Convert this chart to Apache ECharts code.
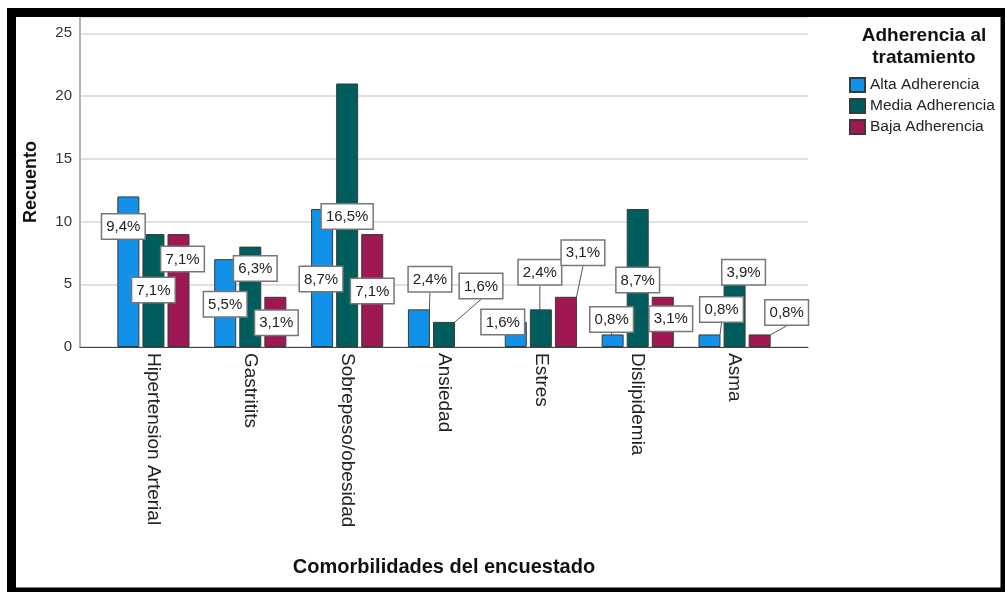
<!DOCTYPE html>
<html>
<head>
<meta charset="utf-8">
<script src="https://cdn.jsdelivr.net/npm/echarts@6.0.0/dist/echarts.min.js"></script>
<style>
html, body { margin: 0; padding: 0; background: #fff; }
#chart { width: 1005px; height: 592px; }
</style>
</head>
<body>
<div id="chart"></div>
<script>
// datos (recuento)
var categories = ['Hipertension Arterial', 'Gastritits', 'Sobrepeso/obesidad', 'Ansiedad', 'Estres', 'Dislipidemia', 'Asma'];
var seriesNames = ['Alta Adherencia', 'Media Adherencia', 'Baja Adherencia'];
var alta = [12, 7, 11, 3, 2, 1, 1];
var media = [9, 8, 21, 2, 3, 11, 5];
var baja = [9, 4, 9, 0, 4, 4, 1];
var yTicks = [0, 5, 10, 15, 20, 25];

var FONT = '"Liberation Sans", Arial, sans-serif';
var colors = ['#1192e8', '#005d5d', '#9f1853'];
var values = [alta, media, baja];

var total = 0;
values.forEach(function (arr) { arr.forEach(function (v) { total += v; }); });

// desplazamiento de cada etiqueta respecto a su posicion por defecto (encima de la barra)
var labelShift = [
  [[-5, 42], [0, 57], [-1, 82], [11, -18], [-13, 12], [-1, -3], [12, -13]],
  [[0, 68], [5, 34], [0, 145], [37, -24], [-1, -25], [0, 83], [9, 0]],
  [[4, 37], [1, 38], [0, 69], [0, 0], [17, -32], [8, 34], [27, -10]]
];
// etiquetas con linea guia
var leaders = [[3, 5, 6], [3, 4], [4, 6]];

function pct(v) {
  return (v / total * 100).toFixed(1).replace('.', ',') + '%';
}

function makeSeries(k) {
  return {
    name: seriesNames[k],
    type: 'bar',
    xAxisIndex: 1,
    yAxisIndex: 1,
    barWidth: 22,
    barGap: '14%',
    itemStyle: { color: colors[k], borderColor: '#3a3a3a', borderWidth: 1 },
    label: {
      show: true,
      position: 'top',
      distance: 0,
      formatter: function (p) { return pct(p.value); },
      fontFamily: FONT,
      fontSize: 15,
      lineHeight: 17,
      color: '#222',
      backgroundColor: '#fff',
      borderColor: '#777',
      borderWidth: 1.5,
      padding: [4, 4, 3, 4]
    },
    labelLine: { show: false, lineStyle: { color: '#555', width: 1 } },
    labelLayout: function (p) {
      var o = labelShift[p.seriesIndex][p.dataIndex];
      return { dx: o[0], dy: o[1] };
    },
    data: values[k].map(function (v, i) {
      var item = {
        value: v,
        label: { show: v > 0 },
        labelLine: { show: leaders[k].indexOf(i) >= 0 }
      };
      if (v === 0) item.itemStyle = { borderWidth: 0 };
      return item;
    })
  };
}

var chart = echarts.init(document.getElementById('chart'));
var option = {
  animation: false,
  backgroundColor: '#fff',
  grid: [
    { left: 80, right: 197, top: 17, bottom: 245 },
    { left: 105, right: 222, top: 17, bottom: 245 }
  ],
  xAxis: [
    {
      gridIndex: 0,
      type: 'value',
      min: 0,
      max: 1,
      axisLine: { show: true, onZero: false, lineStyle: { color: '#444', width: 1 } },
      axisTick: { show: false },
      axisLabel: { show: false },
      splitLine: { show: false },
      name: 'Comorbilidades del encuestado',
      nameLocation: 'middle',
      nameGap: 210,
      nameTextStyle: { fontFamily: FONT, fontSize: 20, fontWeight: 'bold', color: '#111' }
    },
    {
      gridIndex: 1,
      type: 'category',
      data: categories,
      axisLine: { show: false },
      axisTick: { show: false },
      axisLabel: { interval: 0, rotate: -90, margin: 6, fontFamily: FONT, fontSize: 19, color: '#222' }
    }
  ],
  yAxis: [
    {
      gridIndex: 0,
      type: 'value',
      min: yTicks[0],
      max: 26.3,
      interval: yTicks[1] - yTicks[0],
      axisLine: { show: true, lineStyle: { color: '#b4b4b4', width: 2 } },
      axisTick: { show: false },
      axisLabel: { showMaxLabel: false, margin: 8, fontFamily: FONT, fontSize: 15, color: '#333' },
      splitLine: { show: true, lineStyle: { color: '#d6d6d6', width: 1.5 } },
      name: 'Recuento',
      nameLocation: 'middle',
      nameGap: 40,
      nameTextStyle: { fontFamily: FONT, fontSize: 18, fontWeight: 'bold', color: '#111' }
    },
    {
      gridIndex: 1,
      type: 'value',
      min: yTicks[0],
      max: 26.3,
      show: false
    }
  ],
  legend: {
    orient: 'vertical',
    left: 849,
    top: 77,
    padding: 0,
    icon: 'rect',
    itemWidth: 15,
    itemHeight: 14,
    itemGap: 5,
    selectedMode: false,
    data: seriesNames,
    textStyle: { fontFamily: FONT, fontSize: 15.5, lineHeight: 16, color: '#222' }
  },
  graphic: [
    {
      type: 'text',
      x: 924,
      y: 25,
      z: 100,
      style: {
        text: 'Adherencia al\ntratamiento',
        font: 'bold 19px "Liberation Sans", Arial, sans-serif',
        fill: '#111',
        align: 'center',
        verticalAlign: 'top',
        lineHeight: 22
      }
    },
    {
      type: 'rect',
      z: 100,
      shape: { x: 11.5, y: 12.5, width: 993.5, height: 579.5 },
      style: { fill: 'none', stroke: '#000', lineWidth: 9 }
    }
  ],
  series: [makeSeries(0), makeSeries(1), makeSeries(2)]
};
chart.setOption(option);
</script>
</body>
</html>
